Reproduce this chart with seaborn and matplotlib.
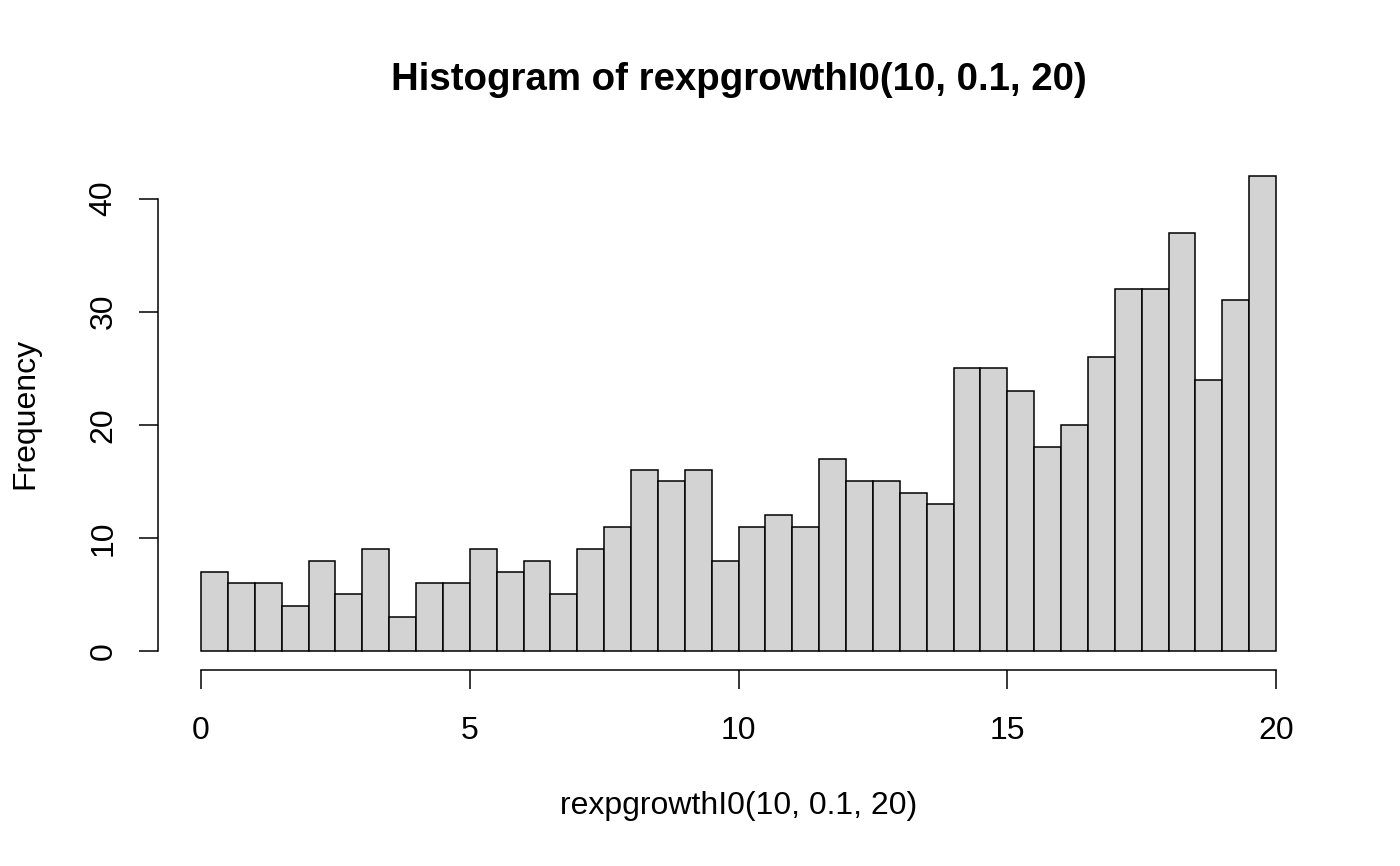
import numpy as np
import pandas as pd
import matplotlib
matplotlib.use("Agg")
import matplotlib.pyplot as plt
import seaborn as sns

# bin edges of the R histogram (width 0.5) and counts
bin_start, bin_end, bin_width = 0, 20, 0.5
counts = [7, 6, 6, 4, 8, 5, 9, 3, 6, 6,
          9, 7, 8, 5, 9, 11, 16, 15, 16, 8,
          11, 12, 11, 17, 15, 15, 14, 13, 25, 25,
          23, 18, 20, 26, 32, 32, 37, 24, 31, 42]
x_ticks = [0, 5, 10, 15, 20]
y_ticks = [0, 10, 20, 30, 40]

mids = np.arange(bin_start, bin_end, bin_width) + bin_width / 2
df = pd.DataFrame({'value': mids, 'count': counts})

sns.set_style('ticks')
plt.rcParams['font.family'] = ['Liberation Sans', 'DejaVu Sans']
plt.rcParams['text.color'] = 'black'
plt.rcParams['axes.labelcolor'] = 'black'
plt.rcParams['xtick.color'] = 'black'
plt.rcParams['ytick.color'] = 'black'

fig = plt.figure(figsize=(14, 8.66), dpi=100)
ax = fig.add_axes([158 / 1400, 1 - 670 / 866, 1161 / 1400, 513 / 866])

sns.histplot(data=df, x='value', weights='count', binwidth=bin_width,
             binrange=(bin_start, bin_end),
             color='#D3D3D3', edgecolor='black', linewidth=1.1, alpha=1,
             ax=ax)

# R style axes: 4% padding, detached axis lines
ax.set_xlim(-0.8, 20.8)
ax.set_ylim(-1.68, 43.68)
for s in ['top', 'right']:
    ax.spines[s].set_visible(False)
ax.spines['left'].set_bounds(0, 40)
ax.spines['bottom'].set_bounds(0, 20)
for s in ['left', 'bottom']:
    ax.spines[s].set_color('black')
    ax.spines[s].set_linewidth(1.1)

ax.set_xticks(x_ticks)
ax.set_yticks(y_ticks)
ax.tick_params(axis='both', direction='out', length=13.5, width=1.1,
               color='black', labelcolor='black', labelsize=23,
               bottom=True, left=True)
ax.tick_params(axis='x', pad=19.5)
ax.tick_params(axis='y', labelrotation=90, pad=15)
for lbl in ax.get_yticklabels():
    lbl.set_va('center')

ax.set_xlabel('rexpgrowthI0(10, 0.1, 20)', fontsize=23, va='center', color='black')
ax.xaxis.set_label_coords(0.5, -0.265)
ax.set_ylabel('Frequency', fontsize=23, va='center', color='black')
ax.yaxis.set_label_coords(-0.1146, 0.5)

# title centred over the plot region like R does
fig.text((158 + 1319) / 2 / 1400, 1 - 80 / 866,
         'Histogram of rexpgrowthI0(10, 0.1, 20)',
         ha='center', va='center', fontsize=27.6, fontweight='bold',
         color='black')

fig.savefig('out.png', dpi=100)
